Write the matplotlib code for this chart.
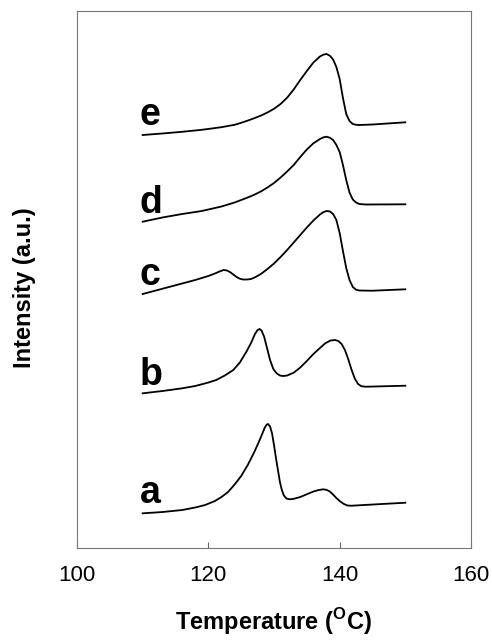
import matplotlib
matplotlib.use("Agg")
import matplotlib.pyplot as plt

plt.rcParams['font.family'] = ['Liberation Sans', 'DejaVu Sans']
plt.rcParams['mathtext.fontset'] = 'custom'
plt.rcParams['mathtext.rm'] = 'Liberation Sans'
plt.rcParams['mathtext.bf'] = 'Liberation Sans:bold'

# DSC melting traces (offset for clarity), temperature in degC
temp_a = [110, 113, 116, 118, 119.5, 121, 122, 123, 124, 125, 126, 127, 127.6, 128.2,
          128.6, 128.9, 129.1, 129.4, 129.7, 130, 130.3, 130.6, 130.9, 131.2, 131.5,
          131.9, 132.4, 133, 134, 135, 136, 136.8, 137.5, 138, 138.5, 139, 139.5, 140,
          140.6, 141.2, 141.8, 145, 150]
int_a = [34.7, 36, 38, 40.5, 43, 47, 51, 56, 63.5, 72, 83, 96, 104.7, 114,
         120.5, 123.5, 124, 121.5, 114.7, 103, 90, 78, 66, 58, 52.5,
         49.5, 48.7, 49.2, 51, 53.8, 56.5, 58, 58.7, 58.2, 56.5, 53.5, 50, 47,
         44.2, 42.5, 42.3, 43.5, 45.3]

temp_b = [110, 113, 116, 118, 120, 121.2, 122.5, 123.8, 124.8, 125.8, 126.5, 127.1,
          127.5, 127.8, 128.1, 128.5, 128.9, 129.4, 129.9, 130.4, 130.9, 131.4, 132,
          133, 134, 135, 136, 137, 137.8, 138.6, 139.3, 139.8, 140.3, 140.8, 141.3,
          141.8, 142.3, 142.8, 143.3, 144, 150]
int_b = [154.7, 157, 159.7, 162, 165.5, 168, 172.5, 178, 185.5, 196.3, 205, 214,
         218, 219, 217.5, 211.3, 201, 188, 179, 174.7, 172.5, 172, 172.5,
         175.3, 180.5, 187, 194, 200, 204.7, 207.5, 208, 207, 204, 198, 189,
         178.5, 169.5, 164, 161.8, 161.3, 162.3]

temp_c = [110, 112, 114, 116, 118, 119, 120, 121, 121.7, 122.3, 122.8, 123.3, 123.8,
          124.3, 124.8, 125.3, 125.9, 126.5, 127.2, 128, 129, 130, 131, 132, 133, 134,
          135, 136, 137, 137.5, 138, 138.5, 139, 139.5, 140, 140.5, 141, 141.5, 142,
          142.5, 143, 145, 150]
int_c = [254, 257.5, 261, 264.5, 268, 270, 272, 274.5, 276.5, 278, 277.6, 276, 273.5,
         271, 269.3, 268.5, 268.5, 269, 271, 274, 279, 284.5, 291, 298, 305.5, 313,
         320.5, 327.5, 333.5, 335.8, 337, 336.6, 334, 328, 315, 297, 280, 268, 261,
         258.3, 257.5, 257.3, 258.7]

temp_d = [110, 113, 116, 119, 122, 124, 126, 127, 128, 129, 130, 131, 132, 133, 134,
          135, 136, 137, 137.5, 138, 138.5, 139, 139.5, 140, 140.5, 141, 141.5, 142,
          142.5, 143, 144, 150]
int_d = [326.3, 330.5, 334, 337, 341.5, 345.5, 350.5, 353.3, 356.5, 360.5, 365, 370.5,
         376.5, 383, 391, 398.5, 404.7, 409, 410.6, 411.3, 410.3, 408, 403, 396, 383,
         368, 355.5, 348.5, 345.5, 344, 343.5, 343.7]

temp_e = [110, 113, 116, 119, 122, 124, 125, 126, 127, 128, 129, 130, 131, 132, 133,
          134, 135, 136, 137, 137.5, 138, 138.5, 139, 139.5, 140, 140.5, 141, 141.5,
          142, 142.5, 143, 145, 150]
int_e = [413, 414.5, 416.2, 418.2, 420.8, 423.2, 425.2, 427.4, 429.8, 432.4, 435.5,
         439.2, 444, 450.3, 458.5, 468, 477, 485.5, 491.5, 493.3, 494, 492.3, 488.5,
         481, 469, 450, 434, 427, 424, 423.2, 423, 423.5, 425.7]

labels = ['a', 'b', 'c', 'd', 'e']
label_temp = [109.5, 109.5, 109.5, 109.5, 109.5]
label_int = [45, 163, 263, 335, 423]

x_ticks = [100, 120, 140, 160]

fig = plt.figure(figsize=(4.92, 6.43), dpi=100)
ax = fig.add_axes([0.1565, 0.1477, 0.8008, 0.8352])

for t, v in [(temp_a, int_a), (temp_b, int_b), (temp_c, int_c),
             (temp_d, int_d), (temp_e, int_e)]:
    ax.plot(t, v, color='black', linewidth=1.3, solid_joinstyle='round')

for lab, lt, li in zip(labels, label_temp, label_int):
    ax.text(lt, li, lab, fontsize=27, fontweight='bold', ha='left', va='baseline')

ax.set_xlim(100, 160)
ax.set_ylim(0, 537)
ax.set_xticks(x_ticks)
ax.set_xticklabels([str(v) for v in x_ticks])
ax.set_yticks([])
ax.tick_params(axis='x', direction='in', length=4, width=0.8, color='#666666',
               labelsize=16, pad=12)
for s in ax.spines.values():
    s.set_color('#777777')
    s.set_linewidth(0.8)

fig.text(0.557, 1 - 630 / 643, r'Temperature ($^{\mathbf{O}}$C)', fontsize=17,
         fontweight='bold', ha='center', va='baseline')
fig.text(0.049, 1 - 288 / 643, 'Intensity (a.u.)', fontsize=17, fontweight='bold',
         rotation=90, ha='center', va='center')

fig.savefig('out.png', dpi=100)
